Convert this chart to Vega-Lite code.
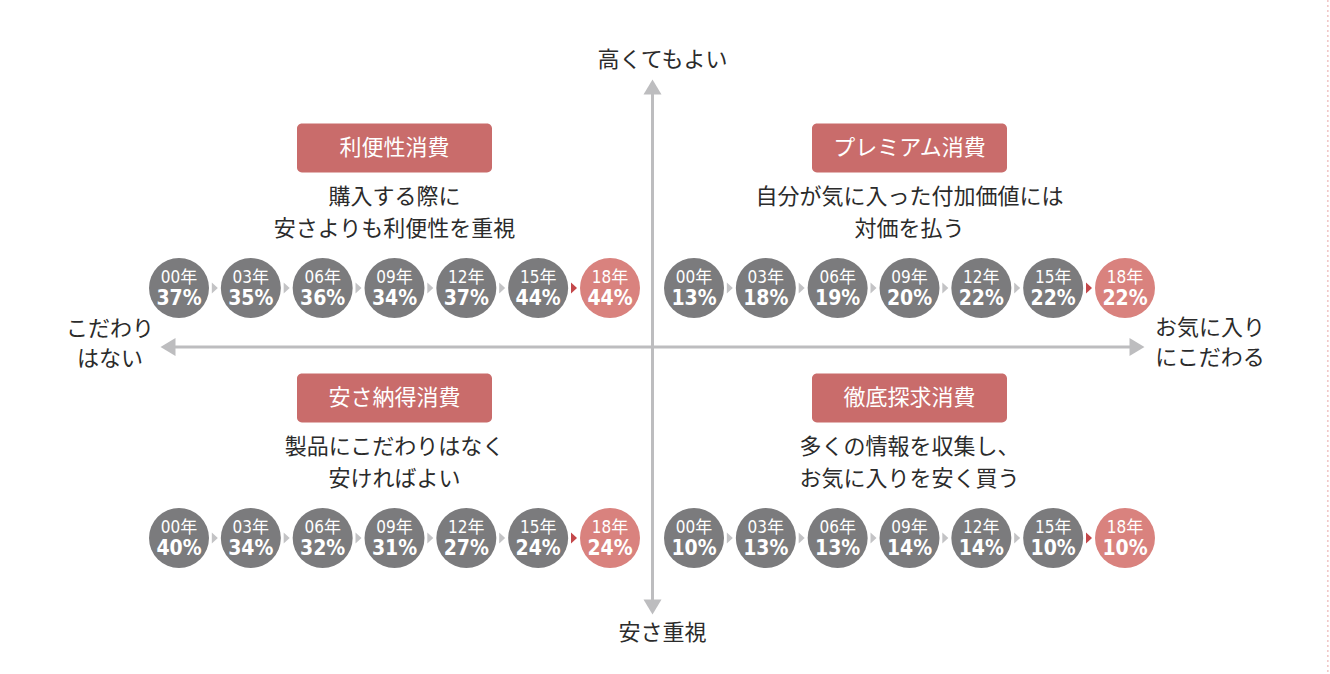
{
  "$schema": "https://vega.github.io/schema/vega-lite/v6.json",
  "width": 1330,
  "height": 674,
  "autosize": "none",
  "padding": 0,
  "background": "white",
  "config": {
    "view": {"stroke": null},
    "font": "Noto Sans CJK JP",
    "axis": {"disable": true},
    "legend": {"disable": true}
  },
  "datasets": {
    "quadrants": [
      {"象限": "利便性消費", "価格": "上", "こだわり": "左", "説明": "購入する際に\n安さよりも利便性を重視"},
      {"象限": "プレミアム消費", "価格": "上", "こだわり": "右", "説明": "自分が気に入った付加価値には\n対価を払う"},
      {"象限": "安さ納得消費", "価格": "下", "こだわり": "左", "説明": "製品にこだわりはなく\n安ければよい"},
      {"象限": "徹底探求消費", "価格": "下", "こだわり": "右", "説明": "多くの情報を収集し、\nお気に入りを安く買う"}
    ],
    "trend": [
      {"象限": "利便性消費", "年": "00年", "割合": 0.37},
      {"象限": "利便性消費", "年": "03年", "割合": 0.35},
      {"象限": "利便性消費", "年": "06年", "割合": 0.36},
      {"象限": "利便性消費", "年": "09年", "割合": 0.34},
      {"象限": "利便性消費", "年": "12年", "割合": 0.37},
      {"象限": "利便性消費", "年": "15年", "割合": 0.44},
      {"象限": "利便性消費", "年": "18年", "割合": 0.44},
      {"象限": "プレミアム消費", "年": "00年", "割合": 0.13},
      {"象限": "プレミアム消費", "年": "03年", "割合": 0.18},
      {"象限": "プレミアム消費", "年": "06年", "割合": 0.19},
      {"象限": "プレミアム消費", "年": "09年", "割合": 0.20},
      {"象限": "プレミアム消費", "年": "12年", "割合": 0.22},
      {"象限": "プレミアム消費", "年": "15年", "割合": 0.22},
      {"象限": "プレミアム消費", "年": "18年", "割合": 0.22},
      {"象限": "安さ納得消費", "年": "00年", "割合": 0.40},
      {"象限": "安さ納得消費", "年": "03年", "割合": 0.34},
      {"象限": "安さ納得消費", "年": "06年", "割合": 0.32},
      {"象限": "安さ納得消費", "年": "09年", "割合": 0.31},
      {"象限": "安さ納得消費", "年": "12年", "割合": 0.27},
      {"象限": "安さ納得消費", "年": "15年", "割合": 0.24},
      {"象限": "安さ納得消費", "年": "18年", "割合": 0.24},
      {"象限": "徹底探求消費", "年": "00年", "割合": 0.10},
      {"象限": "徹底探求消費", "年": "03年", "割合": 0.13},
      {"象限": "徹底探求消費", "年": "06年", "割合": 0.13},
      {"象限": "徹底探求消費", "年": "09年", "割合": 0.14},
      {"象限": "徹底探求消費", "年": "12年", "割合": 0.14},
      {"象限": "徹底探求消費", "年": "15年", "割合": 0.10},
      {"象限": "徹底探求消費", "年": "18年", "割合": 0.10}
    ],
    "axes": [
      {"軸": "縦", "端": "高くてもよい", "向き": 1},
      {"軸": "縦", "端": "安さ重視", "向き": -1},
      {"軸": "横", "端": "お気に入り\nにこだわる", "向き": 1},
      {"軸": "横", "端": "こだわり\nはない", "向き": -1}
    ]
  },
  "layer": [
    {
      "data": {"name": "axes"},
      "layer": [
        {
          "transform": [{"filter": "datum['軸'] === '縦'"}],
          "mark": {"type": "rule", "color": "#bdbdbf", "strokeWidth": 3},
          "encoding": {
            "x": {"datum": 0, "type": "quantitative", "scale": {"domain": [-1, 1], "range": [168, 1137]}},
            "y": {"aggregate": "min", "field": "向き", "type": "quantitative", "scale": {"domain": [-1, 1], "range": [607, 87]}},
            "y2": {"aggregate": "max", "field": "向き"}
          }
        },
        {
          "transform": [{"filter": "datum['軸'] === '横'"}],
          "mark": {"type": "rule", "color": "#bdbdbf", "strokeWidth": 3},
          "encoding": {
            "y": {"datum": 0, "type": "quantitative"},
            "x": {"aggregate": "min", "field": "向き", "type": "quantitative"},
            "x2": {"aggregate": "max", "field": "向き"}
          }
        },
        {
          "transform": [{"filter": "datum['軸'] === '縦'"}],
          "mark": {"type": "point", "filled": true, "opacity": 1, "color": "#bdbdbf", "size": 324},
          "encoding": {
            "x": {"datum": 0, "type": "quantitative"},
            "y": {"field": "向き", "type": "quantitative"},
            "shape": {
              "field": "端", "type": "nominal",
              "scale": {
                "domain": ["高くてもよい", "安さ重視", "お気に入り\nにこだわる", "こだわり\nはない"],
                "range": ["M0,-0.83L1,0.83L-1,0.83Z", "M0,0.83L1,-0.83L-1,-0.83Z", "M0.83,0L-0.83,1L-0.83,-1Z", "M-0.83,0L0.83,1L0.83,-1Z"]
              }
            }
          }
        },
        {
          "transform": [{"filter": "datum['軸'] === '横'"}],
          "mark": {"type": "point", "filled": true, "opacity": 1, "color": "#bdbdbf", "size": 324},
          "encoding": {
            "y": {"datum": 0, "type": "quantitative"},
            "x": {"field": "向き", "type": "quantitative"},
            "shape": {"field": "端", "type": "nominal"}
          }
        },
        {
          "transform": [{"filter": "datum['端'] === '高くてもよい'"}],
          "mark": {"type": "text", "fontSize": 22, "color": "#2b2b2b", "dx": 10, "dy": -27},
          "encoding": {
            "x": {"datum": 0, "type": "quantitative"},
            "y": {"field": "向き", "type": "quantitative"},
            "text": {"field": "端"}
          }
        },
        {
          "transform": [{"filter": "datum['端'] === '安さ重視'"}],
          "mark": {"type": "text", "fontSize": 22, "color": "#2b2b2b", "dx": 10, "dy": 26},
          "encoding": {
            "x": {"datum": 0, "type": "quantitative"},
            "y": {"field": "向き", "type": "quantitative"},
            "text": {"field": "端"}
          }
        },
        {
          "transform": [{"filter": "datum['軸'] === '横' && datum['向き'] > 0"}],
          "mark": {"type": "text", "fontSize": 22, "color": "#2b2b2b", "lineBreak": "\n", "lineHeight": 30, "dx": 73, "dy": -19},
          "encoding": {
            "y": {"datum": 0, "type": "quantitative"},
            "x": {"field": "向き", "type": "quantitative"},
            "text": {"field": "端"}
          }
        },
        {
          "transform": [{"filter": "datum['軸'] === '横' && datum['向き'] < 0"}],
          "mark": {"type": "text", "fontSize": 22, "color": "#2b2b2b", "lineBreak": "\n", "lineHeight": 30, "dx": -58, "dy": -18},
          "encoding": {
            "y": {"datum": 0, "type": "quantitative"},
            "x": {"field": "向き", "type": "quantitative"},
            "text": {"field": "端"}
          }
        },
        {
          "data": {"values": [{"枠": "右端"}]},
          "mark": {"type": "rule", "color": "#e8a5a5", "strokeWidth": 1, "strokeDash": [2, 3]},
          "encoding": {"x": {"datum": 1.394, "type": "quantitative"}}
        }
      ]
    },
    {
      "layer": [
        {
          "data": {"name": "quadrants"},
          "mark": {"type": "point", "filled": true, "opacity": 1, "color": "#c96c6b", "size": 38025,
            "shape": "M-0.949,-0.251H0.949A0.051,0.051 0 0 1 1,-0.2V0.2A0.051,0.051 0 0 1 0.949,0.251H-0.949A0.051,0.051 0 0 1 -1,0.2V-0.2A0.051,0.051 0 0 1 -0.949,-0.251Z"},
          "encoding": {
            "x": {"field": "こだわり", "type": "nominal", "scale": {"domain": ["左", "右"], "range": [137, 1167], "paddingInner": 0, "paddingOuter": 0}},
            "y": {"field": "価格", "type": "nominal", "scale": {"domain": ["上", "下"], "range": [98, 598], "paddingInner": 0, "paddingOuter": 0}},
            "yOffset": {"datum": "区分", "type": "nominal", "scale": {"type": "point", "domain": ["区分", "説明", "推移"], "range": [50, 190], "padding": 0}}
          }
        },
        {
          "data": {"name": "quadrants"},
          "mark": {"type": "text", "fontSize": 22, "color": "white"},
          "encoding": {
            "x": {"field": "こだわり", "type": "nominal"},
            "y": {"field": "価格", "type": "nominal"},
            "yOffset": {"datum": "区分", "type": "nominal"},
            "text": {"field": "象限"}
          }
        },
        {
          "data": {"name": "quadrants"},
          "mark": {"type": "text", "fontSize": 22, "color": "#2b2b2b", "lineBreak": "\n", "lineHeight": 32, "dy": -21},
          "encoding": {
            "x": {"field": "こだわり", "type": "nominal"},
            "y": {"field": "価格", "type": "nominal"},
            "yOffset": {"datum": "説明", "type": "nominal"},
            "text": {"field": "説明"}
          }
        },
        {
          "data": {"name": "trend"},
          "transform": [
            {"lookup": "象限", "from": {"data": {"name": "quadrants"}, "key": "象限", "fields": ["価格", "こだわり"]}},
            {"filter": "datum['年'] !== '00年'"}
          ],
          "mark": {"type": "point", "filled": true, "opacity": 1, "size": 144, "shape": "M-6.5,-0.92L-5.5,0L-6.5,0.92Z"},
          "encoding": {
            "x": {"field": "こだわり", "type": "nominal"},
            "xOffset": {"field": "年", "type": "nominal", "scale": {"type": "point", "domain": ["00年", "03年", "06年", "09年", "12年", "15年", "18年"], "range": [42, 473], "padding": 0}},
            "y": {"field": "価格", "type": "nominal"},
            "yOffset": {"datum": "推移", "type": "nominal"},
            "color": {"condition": {"test": "datum['年'] === '18年'", "value": "#c4474a"}, "value": "#c3c3c5"}
          }
        },
        {
          "data": {"name": "trend"},
          "transform": [{"lookup": "象限", "from": {"data": {"name": "quadrants"}, "key": "象限", "fields": ["価格", "こだわり"]}}],
          "mark": {"type": "point", "filled": true, "opacity": 1, "size": 3600, "shape": "circle"},
          "encoding": {
            "x": {"field": "こだわり", "type": "nominal"},
            "xOffset": {"field": "年", "type": "nominal"},
            "y": {"field": "価格", "type": "nominal"},
            "yOffset": {"datum": "推移", "type": "nominal"},
            "color": {"condition": {"test": "datum['年'] === '18年'", "value": "#d9827e"}, "value": "#7b7b7d"}
          }
        },
        {
          "data": {"name": "trend"},
          "transform": [{"lookup": "象限", "from": {"data": {"name": "quadrants"}, "key": "象限", "fields": ["価格", "こだわり"]}}],
          "mark": {"type": "text", "fontSize": 17, "fontWeight": "normal", "color": "white", "font": "Liberation Sans Narrow, DejaVu Sans Condensed, Noto Sans CJK JP", "dy": -10},
          "encoding": {
            "x": {"field": "こだわり", "type": "nominal"},
            "xOffset": {"field": "年", "type": "nominal"},
            "y": {"field": "価格", "type": "nominal"},
            "yOffset": {"datum": "推移", "type": "nominal"},
            "text": {"field": "年"}
          }
        },
        {
          "data": {"name": "trend"},
          "transform": [{"lookup": "象限", "from": {"data": {"name": "quadrants"}, "key": "象限", "fields": ["価格", "こだわり"]}}],
          "mark": {"type": "text", "fontSize": 21, "fontWeight": "bold", "color": "white", "font": "Liberation Sans Narrow, DejaVu Sans Condensed, Noto Sans CJK JP", "dy": 11},
          "encoding": {
            "x": {"field": "こだわり", "type": "nominal"},
            "xOffset": {"field": "年", "type": "nominal"},
            "y": {"field": "価格", "type": "nominal"},
            "yOffset": {"datum": "推移", "type": "nominal"},
            "text": {"field": "割合", "type": "quantitative", "format": ".0%"}
          }
        }
      ]
    }
  ],
  "resolve": {"scale": {"x": "independent", "y": "independent", "shape": "independent", "color": "independent"}}
}
